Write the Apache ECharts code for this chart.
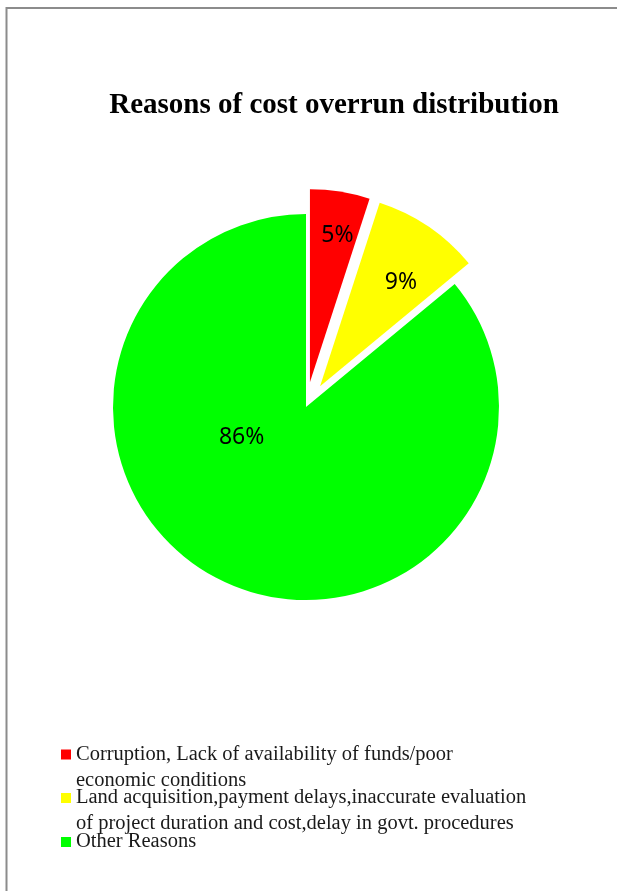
<!DOCTYPE html>
<html>
<head>
<meta charset="utf-8">
<script src="https://cdn.jsdelivr.net/npm/echarts@6/dist/echarts.min.js"></script>
<style>
  html, body { margin: 0; padding: 0; background: #fff; }
  #main { width: 617px; height: 891px; }
</style>
</head>
<body>
<div id="main"></div>
<script>
// categories + values
var categories = [
  'Corruption, Lack of availability of funds/poor economic conditions',
  'Land acquisition,payment delays,inaccurate evaluation of project duration and cost,delay in govt. procedures',
  'Other Reasons'
];
var values = [5, 9, 86];
var colors = ['#ff0000', '#ffff00', '#00ff00'];
// legend text as it wraps in the original
var legendText = [
  'Corruption, Lack of availability of funds/poor\neconomic conditions',
  'Land acquisition,payment delays,inaccurate evaluation\nof project duration and cost,delay in govt. procedures',
  'Other Reasons'
];

// label nudges (excel "best fit" places them off the bisector)
var labelShift = [[12, -49], [25, -22], [-22, -60]];
// icon centre y of each legend entry
var legendIconY = [754.5, 798, 842];
var lineH = 26;

var myChart = echarts.init(document.getElementById('main'));

var legends = categories.map(function (name, i) {
  var twoLines = legendText[i].indexOf('\n') >= 0;
  // a blank first line keeps the marker level with the first text line
  var txt = twoLines ? ' \n' + legendText[i] : legendText[i];
  var half = twoLines ? lineH * 1.5 : lineH / 2;
  return {
    data: [name],
    orient: 'vertical',
    left: 61,
    top: legendIconY[i] - half,
    padding: 0,
    itemWidth: 10,
    itemHeight: 10,
    icon: 'rect',
    selectedMode: false,
    formatter: function () { return txt; },
    textStyle: {
      fontFamily: 'Liberation Serif',
      fontSize: 20.5,
      color: '#1a1a1a',
      lineHeight: lineH
    }
  };
});

var option = {
  animation: false,
  backgroundColor: '#fff',
  title: {
    text: 'Reasons of cost overrun distribution',
    left: 334,
    top: 91,
    textAlign: 'center',
    padding: 0,
    textStyle: {
      fontFamily: 'Liberation Serif',
      fontWeight: 'bold',
      fontSize: 29,
      color: '#000'
    }
  },
  legend: legends,
  graphic: [{
    type: 'rect',
    shape: { x: 6.5, y: 8, width: 700, height: 1000 },
    style: { fill: 'none', stroke: '#8c8c8c', lineWidth: 2 },
    silent: true
  }],
  series: [{
    type: 'pie',
    center: [306, 407],
    radius: 193,
    startAngle: 90,
    clockwise: true,
    selectedMode: 'multiple',
    selectedOffset: 25,
    avoidLabelOverlap: false,
    label: {
      show: true,
      position: 'inside',
      formatter: '{c}%',
      fontFamily: 'Noto Sans',
      fontSize: 23,
      color: '#000'
    },
    labelLine: { show: false },
    labelLayout: function (params) {
      var s = labelShift[params.dataIndex];
      return { dx: s[0], dy: s[1] };
    },
    emphasis: { disabled: true },
    select: { itemStyle: {} },
    data: categories.map(function (name, i) {
      return {
        name: name,
        value: values[i],
        selected: i < 2,
        itemStyle: { color: colors[i] }
      };
    })
  }]
};

myChart.setOption(option);
</script>
</body>
</html>
